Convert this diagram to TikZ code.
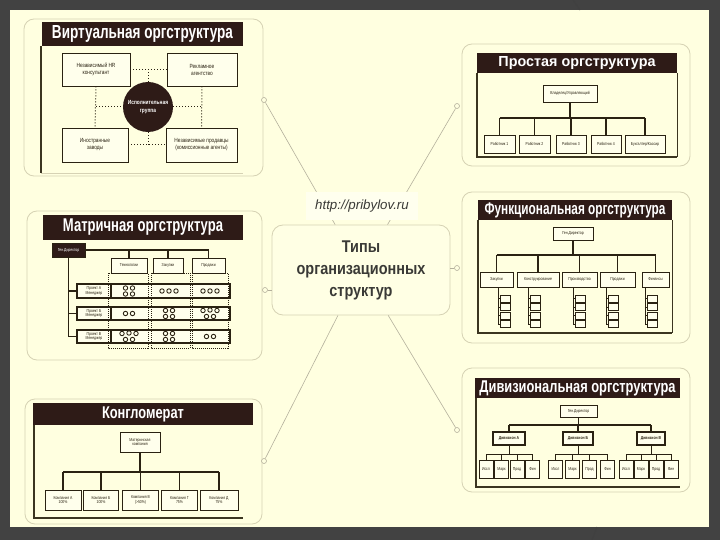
\documentclass[tikz,border=0pt]{standalone}
\usepackage{fontspec}
\usepackage{graphicx}
\setmainfont{Liberation Sans}
\newfontfamily\tinyfont[FakeStretch=0.8]{Liberation Sans}
\definecolor{bgdark}{HTML}{424242}
\definecolor{cream}{HTML}{FFFFE0}
\definecolor{panelline}{HTML}{D6D2B4}
\definecolor{titlebrown}{HTML}{2E1B17}
\definecolor{boxline}{HTML}{2A2212}
\definecolor{boxfill}{HTML}{FFFFEC}
\definecolor{conn}{HTML}{B4B09C}
\definecolor{centerfill}{HTML}{FFFFE4}
\definecolor{centertext}{HTML}{3A3A36}
\definecolor{urlfill}{HTML}{FFFFEE}
\definecolor{frameol}{HTML}{3B3520}
\tikzset{
  panel/.style={draw=panelline, line width=0.8pt, rounded corners=10pt, fill=cream, inner sep=0pt},
  tbar/.style={fill=titlebrown, draw=none, inner sep=0pt, text=white, font=\bfseries},
  ob/.style={draw=boxline, line width=0.8pt, fill=boxfill, inner sep=0pt, align=center,
    font=\tinyfont\fontsize{4.3}{4.8}\selectfont, text=boxline},
  vb/.style={ob, font=\tinyfont\fontsize{6}{7}\selectfont},
  orgline/.style={draw=boxline, line width=1.1pt},
  dotline/.style={draw=boxline, line width=1pt, dotted},
  frameline/.style={draw=frameol, line width=1.3pt},
  framethin/.style={draw=frameol, line width=0.6pt},
  colframe/.style={draw=boxline, line width=0.5pt, dash pattern=on 1pt off 1pt},
  rowbar/.style={draw=boxline, line width=1.3pt, fill=boxfill, inner sep=0pt},
  mdot/.style={circle, draw=boxline, line width=0.9pt, fill=boxfill, minimum size=4.4pt, inner sep=0pt},
  sbox/.style={draw=boxline, line width=0.7pt, fill=boxfill, minimum width=10pt, minimum height=7pt, inner sep=0pt},
  mk/.style={circle, draw=conn, line width=0.6pt, fill=cream, minimum size=5pt, inner sep=0pt},
  conn/.style={draw=conn, line width=0.6pt},
}
\begin{document}
\begin{tikzpicture}[x=1pt,y=-1pt]
\useasboundingbox (0,0) rectangle (720,540);
\fill[bgdark] (0,0) rectangle (720,540);
\fill[cream] (10,10) rectangle (709,527);
\draw[black!75, line width=1pt] (573,0) -- (580,10);
\draw[black!75, line width=1pt] (592,540) -- (597,527);

% ---------------- Virtual ----------------
\node[panel, minimum width=239pt, minimum height=157pt] (pV) at (143.5,97.5) {};
\draw[panelline, line width=0.6pt] (41,173) -- (243,173);
\draw[frameline] (41,46) -- (41,173);
\node[tbar, minimum width=201pt, minimum height=24pt] (tV) at (142.5,34) {\resizebox{181pt}{13pt}{Виртуальная оргструктура}};
\node[vb, minimum width=68pt, minimum height=33pt] (v1) at (96,69.5) {Независимый HR\\консультант};
\node[vb, minimum width=70pt, minimum height=33pt] (v2) at (202,69.5) {Рекламное\\агентство};
\node[vb, minimum width=66pt, minimum height=34pt] (v3) at (95,145) {Иностранные\\заводы};
\node[vb, minimum width=71pt, minimum height=34pt] (v4) at (201.5,145) {Независимые продавцы\\(комиссионные агенты)};
\node[circle, fill=titlebrown, minimum size=50pt, inner sep=0pt, text=white, align=center,
  font=\tinyfont\fontsize{6}{8}\selectfont\bfseries] (vc) at (148,107) {Исполнительная\\группа};
\draw[dotline] (v1.east) -- (v2.west);
\draw[dotline] (v3.east) -- (v4.west);
\draw[dotline] (v1.south) -- (v3.north);
\draw[dotline] (v2.south) -- (v4.north);
\draw[dotline] (vc.north) -- (vc.north |- v1.east);
\draw[dotline] (vc.south) -- (vc.south |- v3.east);
\draw[dotline] (v1.south |- vc.west) -- (vc.west);
\draw[dotline] (vc.east) -- (v2.south |- vc.east);

% ---------------- Simple ----------------
\node[panel, minimum width=228pt, minimum height=122pt] (pS) at (576,105) {};
\draw[frameline] (477,73) -- (477,157) -- (677,157);
\draw[framethin] (677,73) -- (677,157);
\node[tbar, minimum width=200pt, minimum height=20pt] (tS) at (577,63) {\resizebox{157pt}{10pt}{Простая оргструктура}};
\node[ob, minimum width=54pt, minimum height=17pt] (s0) at (570,93.5) {Владелец/Управляющий};
\coordinate (sb) at (570,118);
\node[ob, minimum width=31pt, minimum height=18pt] (s1) at (499.5,144) {Работник 1};
\node[ob, minimum width=31pt, minimum height=18pt] (s2) at (534.5,144) {Работник 2};
\node[ob, minimum width=30pt, minimum height=18pt] (s3) at (571,144) {Работник 3};
\node[ob, minimum width=30pt, minimum height=18pt] (s4) at (606,144) {Работник 4};
\node[ob, minimum width=40pt, minimum height=18pt] (s5) at (645,144) {Бухгалтер/Кассир};
\draw[orgline] (s0.south) -- (sb);
\draw[orgline] (s1.north |- sb) -- (s5.north |- sb);
\foreach \n in {s1,s2,s3,s4,s5} \draw[orgline] (\n.north) -- (\n.north |- sb);

% ---------------- Functional ----------------
\node[panel, minimum width=228pt, minimum height=151pt] (pF) at (576,267.5) {};
\draw[frameline] (478,220) -- (478,333) -- (672,333);
\draw[framethin] (672,220) -- (672,333);
\node[tbar, minimum width=194pt, minimum height=20pt] (tF) at (575,210) {\resizebox{181pt}{11.7pt}{Функциональная оргструктура}};
\node[ob, minimum width=40pt, minimum height=13pt] (f0) at (573,233.5) {Ген.Директор};
\coordinate (fb) at (573,255);
\node[ob, minimum width=33pt, minimum height=15pt] (f1) at (496.5,279.5) {Закупки};
\node[ob, minimum width=42pt, minimum height=15pt] (f2) at (538,279.5) {Конструирование};
\node[ob, minimum width=35pt, minimum height=15pt] (f3) at (579.5,279.5) {Производство};
\node[ob, minimum width=35pt, minimum height=15pt] (f4) at (617.5,279.5) {Продажи};
\node[ob, minimum width=27pt, minimum height=15pt] (f5) at (655.5,279.5) {Финансы};
\draw[orgline] (f0.south) -- (fb);
\draw[orgline] (f1.north |- fb) -- (f5.north |- fb);
\foreach \n in {f1,f2,f3,f4,f5} \draw[orgline] (\n.north) -- (\n.north |- fb);
\foreach \d/\sx in {f1/505,f2/535,f3/580,f4/613,f5/652} {
  \coordinate (l\d) at (\sx-7,287);
  \foreach \k/\yy in {1/298.5,2/307,3/315.5,4/324} {
    \node[sbox] (st\d\k) at (\sx,\yy) {};
    \draw[boxline, line width=0.7pt] (st\d\k.west) -- (st\d\k.west -| l\d);
  }
  \draw[boxline, line width=1.6pt] (st\d3.south west) -- (st\d3.south east);
  \draw[boxline, line width=0.8pt] (l\d) -- (l\d |- st\d4.west);
}

% ---------------- Matrix ----------------
\node[panel, minimum width=235pt, minimum height=149pt] (pM) at (144.5,285.5) {};
\node[tbar, minimum width=200pt, minimum height=25pt] (tM) at (143,227.5) {\resizebox{160pt}{12.7pt}{Матричная оргструктура}};
\node[ob, fill=titlebrown, text=white, minimum width=33pt, minimum height=14pt] (m0) at (68.5,250) {Ген.Директор};
\node[ob, minimum width=36pt, minimum height=15pt] (mc1) at (129,265.5) {Технологии};
\node[ob, minimum width=30pt, minimum height=15pt] (mc2) at (168,265.5) {Закупки};
\node[ob, minimum width=33pt, minimum height=15pt] (mc3) at (208.5,265.5) {Продажи};
\draw[orgline] (m0.east) -| (mc3.north);
\draw[orgline] (mc1.north) -- (mc1.north |- m0.east);
\draw[orgline] (mc2.north) -- (mc2.north |- m0.east);
\node[rowbar, minimum width=153pt, minimum height=14pt] (mb1) at (153.5,291) {};
\node[rowbar, minimum width=153pt, minimum height=13pt] (mb2) at (153.5,313.5) {};
\node[rowbar, minimum width=153pt, minimum height=13pt] (mb3) at (153.5,336.5) {};
\node[ob, line width=1.3pt, minimum width=34pt, minimum height=14pt] (ml1) at (94,291) {Проект А\\Менеджер};
\node[ob, line width=1.3pt, minimum width=34pt, minimum height=13pt] (ml2) at (94,313.5) {Проект Б\\Менеджер};
\node[ob, line width=1.3pt, minimum width=34pt, minimum height=13pt] (ml3) at (94,336.5) {Проект В\\Менеджер};
\draw[orgline] (m0.south) -- (m0.south |- ml3.west);
\foreach \i in {1,2,3} \draw[orgline] (ml\i.west) -- (ml\i.west -| m0.south);
\draw[colframe] (108,273) rectangle (148,348);
\draw[colframe] (151,273) rectangle (190,348);
\draw[colframe] (192,273) rectangle (228,348);
\foreach \x/\y [count=\i] in {125.5/288,125.5/294,132.5/288,132.5/294,162/291,169/291,176/291,203/291,210/291,217/291,
  125.5/313.5,132.5/313.5,165.5/310.5,165.5/316.5,172.5/310.5,172.5/316.5,203/310.5,210/310,217/310.5,206.5/316.5,213.5/316.5,
  122/333.5,129/333,136/333.5,125.5/339.5,132.5/339.5,165.5/333.5,165.5/339.5,172.5/333.5,172.5/339.5,206.5/336.5,213.5/336.5}
  \node[mdot] (md\i) at (\x,\y) {};

% ---------------- Conglomerate ----------------
\node[panel, minimum width=237pt, minimum height=125pt] (pK) at (143.5,461.5) {};
\draw[frameline] (34,425) -- (34,518) -- (243,518);
\node[tbar, minimum width=220pt, minimum height=22pt] (tK) at (143,414) {\resizebox{82pt}{11.7pt}{Конгломерат}};
\node[ob, minimum width=40pt, minimum height=20pt] (k0) at (140,442) {Материнская\\компания};
\coordinate (kb) at (140,472);
\node[ob, minimum width=36pt, minimum height=20pt] (k1) at (63,500) {Компания А\\100\%};
\node[ob, minimum width=35pt, minimum height=20pt] (k2) at (101,500) {Компания Б\\100\%};
\node[ob, minimum width=36pt, minimum height=20pt] (k3) at (140.5,500) {Компания В\\(>50\%)};
\node[ob, minimum width=36pt, minimum height=20pt] (k4) at (179.5,500) {Компания Г\\75\%};
\node[ob, minimum width=38pt, minimum height=20pt] (k5) at (219,500) {Компания Д\\75\%};
\draw[orgline] (k0.south) -- (kb);
\draw[orgline] (k1.north |- kb) -- (k5.north |- kb);
\foreach \n in {k1,k2,k3,k4,k5} \draw[orgline] (\n.north) -- (\n.north |- kb);

% ---------------- Divisional ----------------
\node[panel, minimum width=228pt, minimum height=124pt] (pD) at (576,430) {};
\draw[frameline] (476,398) -- (476,487) -- (680,487);
\node[tbar, minimum width=205pt, minimum height=20pt] (tD) at (577.5,388) {\resizebox{196pt}{11.7pt}{Дивизиональная оргструктура}};
\node[ob, minimum width=37pt, minimum height=12pt] (d0) at (578.5,411) {Ген.Директор};
\coordinate (db) at (578.5,425);
\node[ob, line width=1.3pt, font=\tinyfont\fontsize{4.3}{4.8}\selectfont\bfseries, minimum width=32pt, minimum height=13pt] (dA) at (509,438.5) {Дивизион А};
\node[ob, line width=1.3pt, font=\tinyfont\fontsize{4.3}{4.8}\selectfont\bfseries, minimum width=30pt, minimum height=13pt] (dB) at (578,438.5) {Дивизион Б};
\node[ob, line width=1.3pt, font=\tinyfont\fontsize{4.3}{4.8}\selectfont\bfseries, minimum width=28pt, minimum height=13pt] (dC) at (651,438.5) {Дивизион В};
\draw[orgline] (d0.south) -- (db);
\draw[orgline] (dA.north |- db) -- (dC.north |- db);
\foreach \n in {dA,dB,dC} \draw[orgline] (\n.north) -- (\n.north |- db);
\foreach \g/\xa/\xb/\xc/\xd in {A/486/501.5/517/532.5, B/555.5/572.5/589.5/607.5, C/626/641/656/671} {
  \coordinate (sb\g) at (\xa,454);
  \node[ob, minimum width=14pt, minimum height=18pt] (ds\g1) at (\xa,469) {Иссл};
  \node[ob, minimum width=14pt, minimum height=18pt] (ds\g2) at (\xb,469) {Марк};
  \node[ob, minimum width=14pt, minimum height=18pt] (ds\g3) at (\xc,469) {Прод};
  \node[ob, minimum width=14pt, minimum height=18pt] (ds\g4) at (\xd,469) {Фин};
  \draw[boxline, line width=0.8pt] (ds\g1.north |- sb\g) -- (ds\g4.north |- sb\g);
  \foreach \k in {1,2,3,4} \draw[boxline, line width=0.8pt] (ds\g\k.north) -- (ds\g\k.north |- sb\g);
  \draw[boxline, line width=0.8pt] (d\g.south) -- (d\g.south |- sb\g);
}

% ---------------- Centre ----------------
\node[draw=panelline, line width=0.8pt, rounded corners=11pt, fill=centerfill, minimum width=178pt, minimum height=90pt,
  align=center, text=centertext, font=\fontsize{17}{22}\selectfont\bfseries] (ctr) at (361,270)
  {\scalebox{0.85}[1]{Типы}\\\scalebox{0.85}[1]{организационных}\\\scalebox{0.85}[1]{структур}};
\node[mk] (e1) at (264,100) {};
\node[mk] (e2) at (457,106) {};
\node[mk] (e3) at (457,268) {};
\node[mk] (e4) at (265,290) {};
\node[mk] (e5) at (264,461) {};
\node[mk] (e6) at (457,430) {};
\draw[conn] (e1) -- (ctr);
\draw[conn] (e2) -- (ctr);
\draw[conn] (e5) -- (ctr);
\draw[conn] (e6) -- (ctr);
\draw[conn] (e3) -- (e3 -| ctr.east);
\draw[conn] (e4) -- (e4 -| ctr.west);
\node[fill=urlfill, minimum width=112pt, minimum height=28pt, text=centertext,
  font=\itshape\fontsize{13.3}{15}\selectfont] (url) at (362,206) {http://pribylov.ru};
\end{tikzpicture}
\end{document}
